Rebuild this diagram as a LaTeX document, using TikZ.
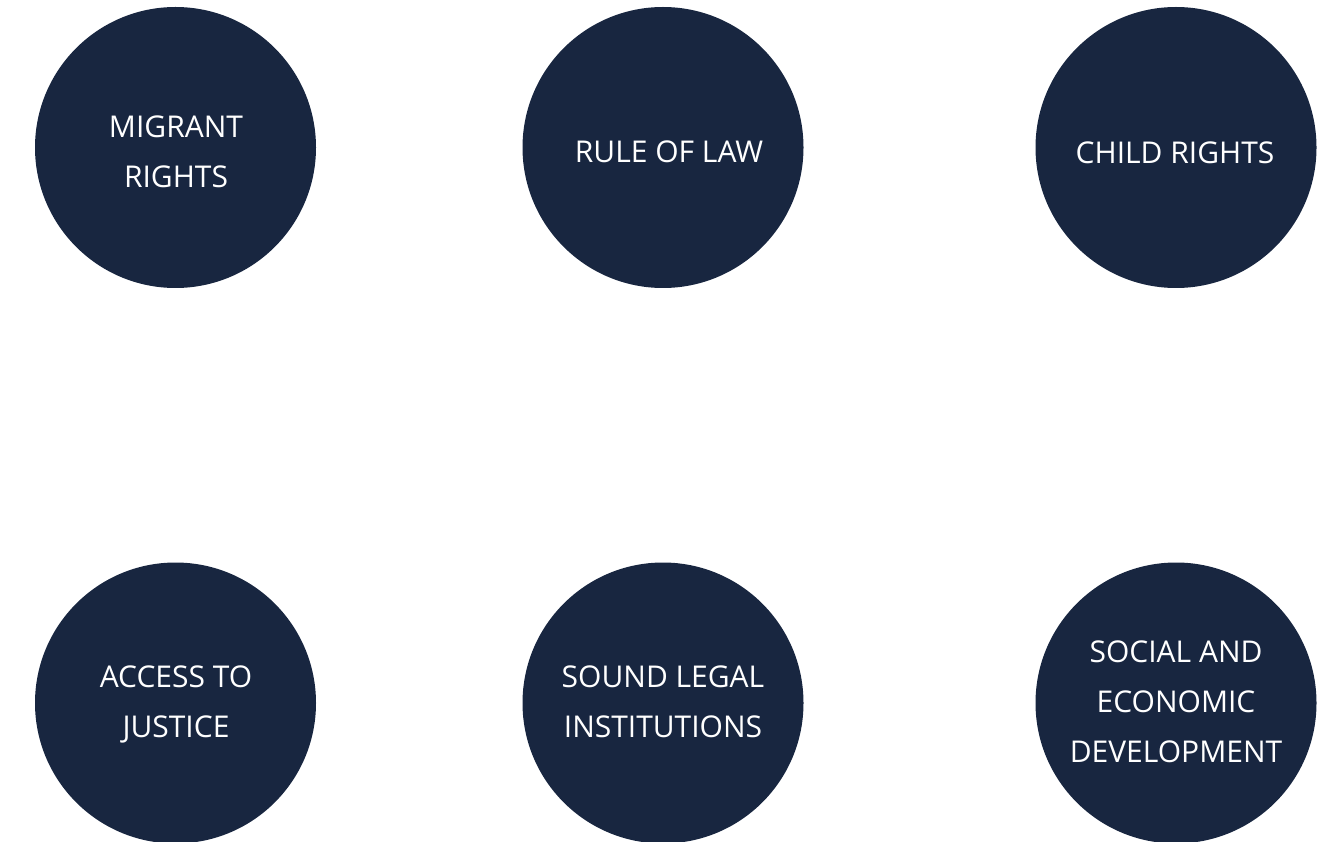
\documentclass[tikz,border=0pt]{standalone}
\usepackage{fontspec}
\setmainfont{Open Sans}
\definecolor{navy}{RGB}{24,38,64}
\begin{document}
\begin{tikzpicture}[x=1pt,y=-1pt,
  disc/.style={circle,fill=navy,minimum size=281pt,inner sep=0pt},
  caption/.style={text=white,align=center,font=\fontsize{30}{50}\selectfont}]
\useasboundingbox (0,0) rectangle (1333,842);
% top row
\node[disc] (c1) at (175.5,147.5) {};
\node[disc] (c2) at (663,147.5) {};
\node[disc] (c3) at (1176,147.5) {};
% bottom row
\node[disc] (c4) at (175.5,703) {};
\node[disc] (c5) at (663,703) {};
\node[disc] (c6) at (1176,703) {};
% labels
\node[caption] (t1) at (176,152) {MIGRANT\\RIGHTS};
\node[caption] (t2) at (669,152) {RULE OF LAW};
\node[caption] (t3) at (1175,153) {CHILD RIGHTS};
\node[caption] (t4) at (176,704) {ACCESS TO\\JUSTICE};
\node[caption] (t5) at (663,702) {SOUND LEGAL\\INSTITUTIONS};
\node[caption] (t6) at (1176,702) {SOCIAL AND\\ECONOMIC\\DEVELOPMENT};
\end{tikzpicture}
\end{document}
